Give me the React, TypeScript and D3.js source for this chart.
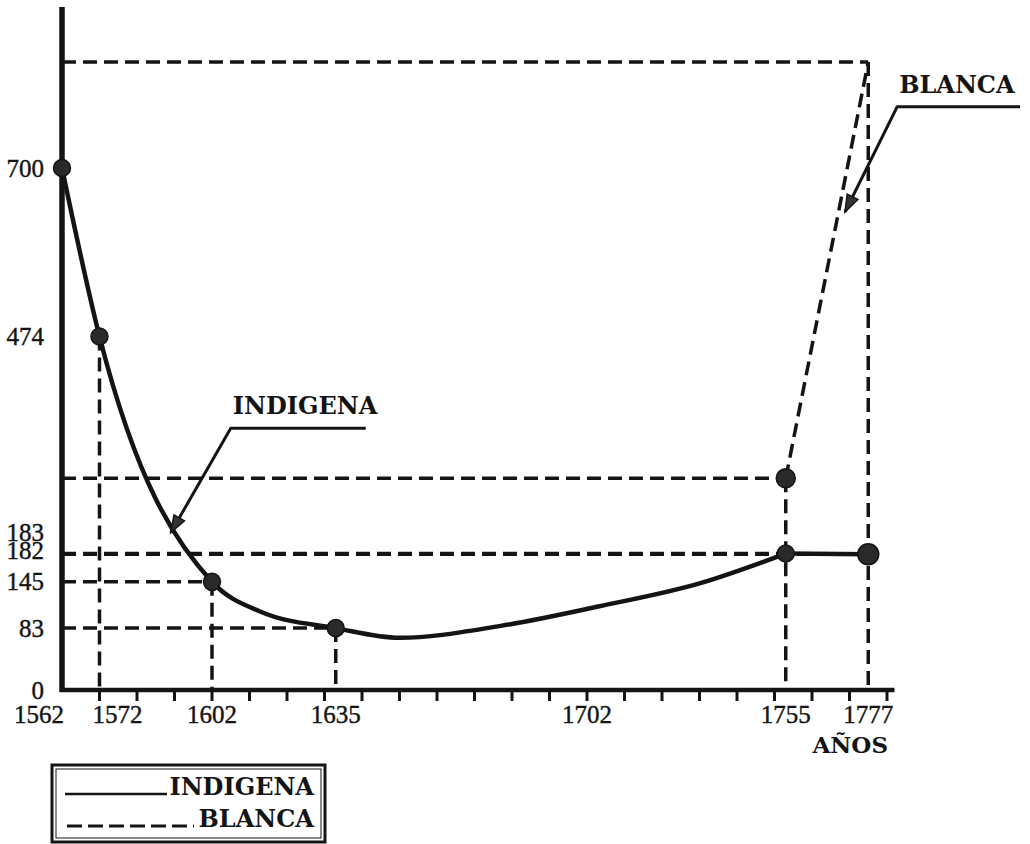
import React from "react";
import * as d3 from "d3";

// ---- data ----
const indigenaYears = [1562, 1572, 1602, 1635, 1755, 1777];
const indigenaValues = [700, 474, 145, 83, 183, 182];
// points (markers + unmarked points of the trace)
const indigenaCurveYears = [1562, 1572, 1602, 1615, 1635, 1652, 1679, 1705, 1732, 1755];
const indigenaCurveValues = [700, 474, 145, 105, 83, 70, 86, 112, 143, 183];
// straight closing segment of the indigena trace
const indigenaTailYears = [1755, 1777];
const indigenaTailValues = [183, 182];
const blancaYears = [1755, 1777];
const blancaValues = [284, 842];
const blancaMarked = [true, false];
const yTickValues = [0, 83, 145, 182, 183, 474, 700];
const xTickLabels = [1562, 1572, 1602, 1635, 1702, 1755, 1777];
const minorTickYears = d3.range(1572, 1783, 10);
const annotationLabels = ["INDIGENA", "BLANCA"];
const annotationTips: [number, number][] = [[1591, 211], [1770.8, 641]];
const annotationElbows: [number, number][] = [[1607, 351], [1784.7, 782]];
const annotationEnds = [1643, 1817.5];

const W = 1030;
const H = 844;
const INK = "#141414";
const NUM_FONT = "'Liberation Serif', 'Times New Roman', serif";
const BOLD_FONT = "'DejaVu Serif', serif";

export default function App() {
  const x = d3.scaleLinear().domain([1562, 1782]).range([62, 887]);
  const y = d3.scaleLinear().domain([0, 700]).range([690, 168]);

  const curvePts: [number, number][] = indigenaCurveYears.map((yr, i) => [yr, indigenaCurveValues[i]]);
  const tailPts: [number, number][] = indigenaTailYears.map((yr, i) => [yr, indigenaTailValues[i]]);
  const smooth = d3
    .line<[number, number]>()
    .x((d) => x(d[0]))
    .y((d) => y(d[1]))
    .curve(d3.curveMonotoneX);
  const straight = d3
    .line<[number, number]>()
    .x((d) => x(d[0]))
    .y((d) => y(d[1]));
  const blancaLine = d3
    .line<number>()
    .x((_, i) => x(blancaYears[i]))
    .y((d) => y(d));

  const dash = "14 7";

  // horizontal guides: all marked points except the first two indigena ones
  const hGuides: { yr: number; v: number }[] = [];
  indigenaYears.forEach((yr, i) => {
    if (i >= 2) hGuides.push({ yr, v: indigenaValues[i] });
  });
  blancaYears.forEach((yr, i) => hGuides.push({ yr, v: blancaValues[i] }));

  // vertical guides: one per year, from the highest point of that year down to 0
  const vMap = new Map<number, number>();
  indigenaYears.forEach((yr, i) => {
    if (i >= 1) vMap.set(yr, Math.max(vMap.get(yr) ?? 0, indigenaValues[i]));
  });
  blancaYears.forEach((yr, i) => vMap.set(yr, Math.max(vMap.get(yr) ?? 0, blancaValues[i])));
  const vGuides = Array.from(vMap.entries()).map(([yr, v]) => ({ yr, v }));

  // y label positions with stacking of close values
  const sortedTicks = [...yTickValues].sort((a, b) => a - b);
  const labelY: Record<number, number> = {};
  sortedTicks.forEach((v, i) => {
    let py = y(v);
    if (i + 1 < sortedTicks.length && Math.abs(y(sortedTicks[i + 1]) - py) < 18) py -= 4;
    if (i > 0) {
      const prev = labelY[sortedTicks[i - 1]];
      if (prev - py < 18) py = prev - 18;
    }
    labelY[v] = py;
  });

  const arrowHead = (tip: [number, number], from: [number, number]) => {
    const tx = x(tip[0]);
    const ty = y(tip[1]);
    const fx = x(from[0]);
    const fy = y(from[1]);
    const len = Math.hypot(tx - fx, ty - fy);
    const ux = (tx - fx) / len;
    const uy = (ty - fy) / len;
    const L = 17;
    const Wd = 6;
    const bx = tx - ux * L;
    const by = ty - uy * L;
    return `M${tx},${ty} L${bx - uy * Wd},${by + ux * Wd} L${bx + uy * Wd},${by - ux * Wd} Z`;
  };

  return (
    <svg
      width={W}
      height={H}
      viewBox={`0 0 ${W} ${H}`}
      style={{ position: "absolute", left: 0, top: 0, background: "#fff" }}
    >
      <rect width={W} height={H} fill="#fff" />

      {/* dashed guide lines */}
      {hGuides.map((g, i) => (
        <line
          key={`h${i}`}
          x1={x(1562)}
          x2={x(g.yr)}
          y1={y(g.v)}
          y2={y(g.v)}
          stroke={INK}
          strokeWidth={3.5}
          strokeDasharray={dash}
        />
      ))}
      {vGuides.map((g, i) => (
        <line
          key={`v${i}`}
          x1={x(g.yr)}
          x2={x(g.yr)}
          y1={y(g.v)}
          y2={y(0)}
          stroke={INK}
          strokeWidth={3.5}
          strokeDasharray={dash}
        />
      ))}

      {/* axes */}
      <line x1={x(1562)} x2={x(1562)} y1={y(0) + 2} y2={y(916)} stroke={INK} strokeWidth={5.5} />
      <line x1={x(1562) - 2} x2={x(1784)} y1={y(0)} y2={y(0)} stroke={INK} strokeWidth={4.5} />
      {minorTickYears.map((yr) => (
        <line key={`t${yr}`} x1={x(yr)} x2={x(yr)} y1={y(0)} y2={y(0) + 11} stroke={INK} strokeWidth={3} />
      ))}

      {/* series */}
      <path d={smooth(curvePts) || ""} fill="none" stroke={INK} strokeWidth={4.5} />
      <path d={straight(tailPts) || ""} fill="none" stroke={INK} strokeWidth={4.5} />
      <path d={blancaLine(blancaValues) || ""} fill="none" stroke={INK} strokeWidth={3.5} strokeDasharray={dash} />

      {indigenaYears.map((yr, i) => (
        <circle
          key={`ci${yr}`}
          cx={x(yr)}
          cy={y(indigenaValues[i])}
          r={i === indigenaYears.length - 1 ? 10.5 : 8.5}
          fill="#2a2a2a"
          stroke={INK}
          strokeWidth={1.5}
        />
      ))}
      {blancaYears.map((yr, i) =>
        blancaMarked[i] ? (
          <circle key={`cb${yr}`} cx={x(yr)} cy={y(blancaValues[i])} r={9.5} fill="#2a2a2a" stroke={INK} strokeWidth={1.5} />
        ) : null
      )}

      {/* y labels */}
      {yTickValues.map((v) => (
        <text
          key={`yl${v}`}
          x={44}
          y={labelY[v]}
          dominantBaseline="central"
          textAnchor="end"
          fontFamily={NUM_FONT}
          fontSize={25}
          fill={INK}
          stroke={INK}
          strokeWidth={0.4}
        >
          {v}
        </text>
      ))}

      {/* x labels */}
      {xTickLabels.map((yr, i) => (
        <text
          key={`xl${yr}`}
          x={i === 0 ? x(yr) + 2 : i === 1 ? x(yr) - 7 : x(yr)}
          y={723}
          textAnchor={i === 0 ? "end" : i === 1 ? "start" : "middle"}
          fontFamily={NUM_FONT}
          fontSize={25}
          fill={INK}
          stroke={INK}
          strokeWidth={0.4}
        >
          {yr}
        </text>
      ))}
      <text x={888} y={753} textAnchor="end" fontFamily={BOLD_FONT} fontWeight="bold" fontSize={23} fill={INK}>
        AÑOS
      </text>

      {/* annotations */}
      {annotationLabels.map((lab, i) => {
        const tip = annotationTips[i];
        const elbow = annotationElbows[i];
        const ex = x(elbow[0]);
        const ey = y(elbow[1]);
        return (
          <g key={lab}>
            <polyline
              points={`${x(annotationEnds[i])},${ey} ${ex},${ey} ${x(tip[0])},${y(tip[1])}`}
              fill="none"
              stroke={INK}
              strokeWidth={3}
              strokeLinejoin="round"
            />
            <path d={arrowHead(tip, elbow)} fill="#333" stroke={INK} strokeWidth={1.5} />
            <text
              x={ex + 2}
              y={ey - 14}
              fontFamily={BOLD_FONT}
              fontWeight="bold"
              fontSize={24}
              fill={INK}
            >
              {lab}
            </text>
          </g>
        );
      })}

      {/* legend */}
      <g>
        <rect x={52} y={765} width={273} height={77} fill="none" stroke={INK} strokeWidth={3} />
        <rect x={56} y={769} width={265} height={69} fill="none" stroke={INK} strokeWidth={1} />
        <line x1={65} x2={167} y1={794} y2={794} stroke={INK} strokeWidth={2.5} />
        <text x={314} y={795} textAnchor="end" fontFamily={BOLD_FONT} fontWeight="bold" fontSize={24} fill={INK}>
          INDIGENA
        </text>
        <line x1={67} x2={194} y1={826} y2={826} stroke={INK} strokeWidth={3} strokeDasharray="15 6" />
        <text x={314} y={827} textAnchor="end" fontFamily={BOLD_FONT} fontWeight="bold" fontSize={24} fill={INK}>
          BLANCA
        </text>
      </g>
    </svg>
  );
}
